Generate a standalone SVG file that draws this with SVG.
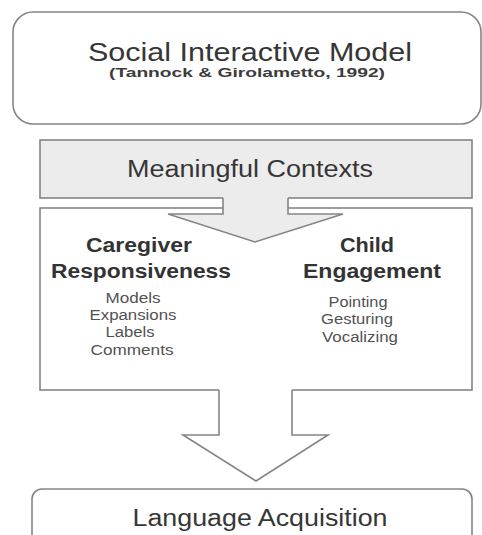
<svg xmlns="http://www.w3.org/2000/svg" width="482" height="535" viewBox="0 0 482 535">
  <style>
    .box { fill: #ffffff; stroke: #858585; stroke-width: 1.6; }
    .shade { fill: #ececec; }
    .edge { fill: none; stroke: #858585; stroke-width: 1.6; stroke-linejoin: miter; }
    text { font-family: "Liberation Sans", Arial, sans-serif; fill: #363636; text-anchor: middle; }
    .title { font-size: 25px; }
    .cite { font-size: 13px; font-weight: bold; fill: #3c3c3c; }
    .band { font-size: 23px; }
    .head { font-size: 20px; font-weight: bold; fill: #333333; }
    .item { font-size: 14px; fill: #525252; }
  </style>
  <rect width="482" height="535" fill="#ffffff"/>

  <!-- Model title panel -->
  <g id="model">
    <rect class="box" x="13" y="12" width="468" height="112" rx="20" ry="20"/>
    <text class="title" x="250" y="61" textLength="324" lengthAdjust="spacingAndGlyphs">Social Interactive Model</text>
    <text class="cite" x="247" y="77" textLength="276" lengthAdjust="spacingAndGlyphs">(Tannock &amp; Girolametto, 1992)</text>
  </g>

  <!-- Contexts band -->
  <g id="contexts">
    <rect class="box shade" x="40" y="140" width="432" height="58"/>
    <text class="band" x="250" y="177" textLength="246" lengthAdjust="spacingAndGlyphs">Meaningful Contexts</text>
  </g>

  <!-- Interaction panel -->
  <g id="interaction">
    <rect class="box" x="40" y="208" width="432" height="182"/>
    <text class="head" x="139" y="252" textLength="106" lengthAdjust="spacingAndGlyphs">Caregiver</text>
    <text class="head" x="141" y="278" textLength="180" lengthAdjust="spacingAndGlyphs">Responsiveness</text>
    <text class="item" x="133" y="303" textLength="55" lengthAdjust="spacingAndGlyphs">Models</text>
    <text class="item" x="133" y="320" textLength="87" lengthAdjust="spacingAndGlyphs">Expansions</text>
    <text class="item" x="130" y="337" textLength="49" lengthAdjust="spacingAndGlyphs">Labels</text>
    <text class="item" x="132" y="355" textLength="83" lengthAdjust="spacingAndGlyphs">Comments</text>
    <text class="head" x="367" y="252" textLength="54" lengthAdjust="spacingAndGlyphs">Child</text>
    <text class="head" x="372" y="278" textLength="138" lengthAdjust="spacingAndGlyphs">Engagement</text>
    <text class="item" x="358" y="307" textLength="59" lengthAdjust="spacingAndGlyphs">Pointing</text>
    <text class="item" x="357" y="324" textLength="72" lengthAdjust="spacingAndGlyphs">Gesturing</text>
    <text class="item" x="360" y="342" textLength="76" lengthAdjust="spacingAndGlyphs">Vocalizing</text>
  </g>

  <!-- Outcome panel -->
  <g id="outcome">
    <rect class="box" x="32" y="489" width="440" height="80" rx="10" ry="10"/>
    <text class="band" x="260" y="526" textLength="255" lengthAdjust="spacingAndGlyphs">Language Acquisition</text>
  </g>

  <!-- Block arrows -->
  <g id="connectors">
    <path class="shade" d="M223 197 L288 197 L288 214 L343 214 L255 242 L168 214 L223 214 Z"/>
    <path class="edge" d="M223 198 L223 214 L168 214 L255 242 L343 214 L288 214 L288 198"/>
    <path fill="#ffffff" d="M219 389 L292 389 L292 435 L328 435 L256 481 L183 435 L219 435 Z"/>
    <path class="edge" d="M219 390 L219 435 L183 435 L256 481 L328 435 L292 435 L292 390"/>
  </g>
</svg>
